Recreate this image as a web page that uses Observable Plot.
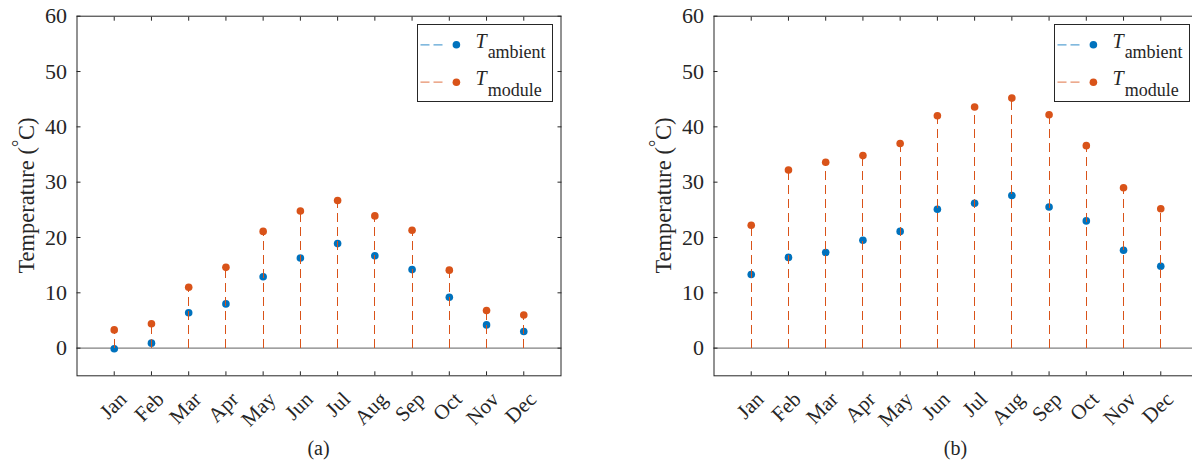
<!DOCTYPE html>
<html><head><meta charset="utf-8">
<script src="https://cdn.jsdelivr.net/npm/d3@7"></script>
<script src="https://cdn.jsdelivr.net/npm/@observablehq/plot@0.6"></script>
<style>
html,body{margin:0;padding:0;background:#fff;width:1192px;height:461px;overflow:hidden;}
#wrap{position:relative;width:1192px;height:461px;overflow:hidden;font-family:"Liberation Serif","Times New Roman",serif;color:#262626;}
.panel{position:absolute;top:0;width:600px;height:461px;}
.panel svg{display:block;}
.panel g[aria-label="y-axis tick label"]{font-size:22px !important;font-family:"Liberation Serif","Times New Roman",serif !important;font-variant:normal !important;}
.panel g[aria-label="x-axis tick label"]{font-size:21px !important;font-family:"Liberation Serif","Times New Roman",serif !important;font-variant:normal !important;}
.cap{position:absolute;top:436px;font-size:20px;line-height:25px;text-align:center;}
</style></head><body><div id="wrap"></div>
<script>
const months = ["Jan","Feb","Mar","Apr","May","Jun","Jul","Aug","Sep","Oct","Nov","Dec"];
const ambientA = [-0.1, 0.9, 6.4, 8.0, 12.9, 16.3, 18.9, 16.7, 14.2, 9.2, 4.2, 3.0];
const moduleA  = [3.3, 4.4, 11.0, 14.6, 21.1, 24.8, 26.7, 23.9, 21.3, 14.1, 6.8, 6.0];
const ambientB = [13.3, 16.4, 17.3, 19.5, 21.1, 25.1, 26.2, 27.6, 25.5, 23.0, 17.7, 14.8];
const moduleB  = [22.2, 32.2, 33.6, 34.8, 37.0, 42.0, 43.6, 45.2, 42.2, 36.6, 29.0, 25.2];
const yTicks = [0, 10, 20, 30, 40, 50, 60];
const captions = ["(a)", "(b)"];
const seriesNames = ["ambient", "module"];
const colors = ["#0072BD", "#D95319"];
const font = '"Liberation Serif","Times New Roman",serif';

const W = 600, H = 436, ML = 76.5, MR = 39.5, MT = 15.7, MB = 60.7;

function panel(amb, mod, left, caption) {
  const xs = months.map((m, i) => i + 1);
  const data = months.map((m, i) => ({x: i + 1, month: m, amb: amb[i], mod: mod[i]}));
  const chart = Plot.plot({
    width: W, height: H, marginLeft: ML, marginRight: MR, marginTop: MT, marginBottom: MB,
    style: {fontFamily: font, fontSize: "21px", color: "#262626", background: "white"},
    x: {domain: [0, 13], axis: null},
    y: {domain: [-5, 60], axis: null},
    marks: [
      Plot.ruleY([0], {stroke: "#808080", strokeWidth: 1.3}),
      Plot.ruleX(data, {x: "x", y1: 0, y2: "amb", stroke: colors[0], strokeWidth: 1.1, strokeDasharray: "9,5", shapeRendering: "crispEdges"}),
      Plot.dot(data, {x: "x", y: "amb", r: 3.8, fill: colors[0], stroke: null}),
      Plot.ruleX(data, {x: "x", y1: 0, y2: "mod", stroke: colors[1], strokeWidth: 1.1, strokeDasharray: "9,5", shapeRendering: "crispEdges"}),
      Plot.dot(data, {x: "x", y: "mod", r: 3.8, fill: colors[1], stroke: null}),
      Plot.axisY(yTicks, {anchor: "left", tickSize: -4, tickPadding: 14, fontSize: 22, label: null}),
      Plot.axisY(yTicks, {anchor: "right", tickSize: -4, fill: "none", label: null}),
      Plot.axisX(xs, {anchor: "bottom", tickSize: -4, fill: "none", label: null}),
      Plot.axisX(xs, {anchor: "top", tickSize: -4, fill: "none", label: null}),
      Plot.axisX(xs, {anchor: "bottom", tickSize: 0, tickPadding: 20, tickRotate: -45, dx: 9, fontSize: 21,
        tickFormat: d => months[d - 1], label: null}),
      Plot.frame({stroke: "#262626", strokeWidth: 1})
    ]
  });
  const div = document.createElement("div");
  div.className = "panel";
  div.style.left = left + "px";
  div.appendChild(chart);
  document.getElementById("wrap").appendChild(div);

  // y label
  const svg = d3.select(chart);
  const t = svg.append("text")
    .attr("transform", `translate(34,${(MT + (H - MB)) / 2}) rotate(-90)`)
    .attr("text-anchor", "middle").attr("font-size", 22.5).attr("fill", "#262626").attr("font-family", font);
  t.append("tspan").text("Temperature (");
  t.append("tspan").attr("dy", -9).attr("font-size", 18).text("°");
  t.append("tspan").attr("dy", 9).text("C)");

  // legend
  const lg = d3.select(div).append("svg")
    .attr("width", 137).attr("height", 79)
    .style("position", "absolute").style("left", "417px").style("top", "23.5px");
  lg.append("rect").attr("x", 0.5).attr("y", 0.5).attr("width", 135).attr("height", 77)
    .attr("fill", "white").attr("stroke", "#262626");
  seriesNames.forEach((name, k) => {
    const cy = 20.8 + k * 37.4;
    lg.append("line").attr("x1", 3.5).attr("x2", 27).attr("y1", cy).attr("y2", cy)
      .attr("stroke", colors[k]).attr("stroke-opacity", 0.65).attr("stroke-width", 1.2).attr("stroke-dasharray", "9,4");
    lg.append("circle").attr("cx", 39.4).attr("cy", cy).attr("r", 3.8).attr("fill", colors[k]);
    const tx = lg.append("text").attr("x", 58.5).attr("y", cy + 3).attr("font-size", 20)
      .attr("font-family", font).attr("fill", "#262626");
    tx.append("tspan").attr("font-style", "italic").text("T");
    tx.append("tspan").attr("font-size", 18).attr("dy", 10.4).attr("dx", 1).text(name);
  });

  const cap = document.createElement("div");
  cap.className = "cap";
  cap.style.left = ML + "px";
  cap.style.width = (W - ML - MR) + "px";
  cap.textContent = caption;
  div.appendChild(cap);
}

panel(ambientA, moduleA, 0, captions[0]);
panel(ambientB, moduleB, 637, captions[1]);
</script></body></html>
